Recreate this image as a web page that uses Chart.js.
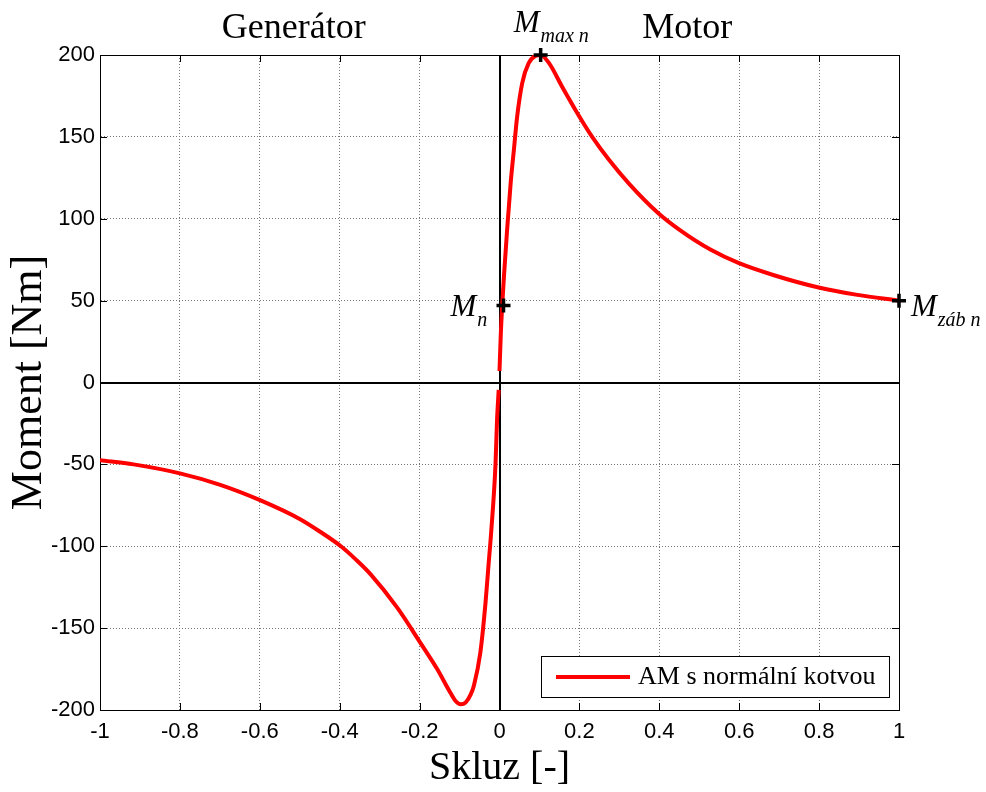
<!DOCTYPE html>
<html>
<head>
<meta charset="utf-8">
<title>Moment - skluz</title>
<script src="https://cdn.jsdelivr.net/npm/chart.js"></script>
<style>
  body { margin: 0; background: #fff; }
  #wrap { width: 986px; height: 792px; }
</style>
</head>
<body>
<div id="wrap"><canvas id="chart" width="986" height="792"></canvas></div>
<script>
// values
const seriesLabel = 'AM s normální kotvou';

// generator branch (s < 0)
const slipGen = [-1.000, -0.916, -0.800, -0.699, -0.598, -0.499, -0.450, -0.397, -0.360, -0.323, -0.256, -0.198,
  -0.156, -0.123, -0.110, -0.097, -0.085, -0.072, -0.064, -0.048, -0.035, -0.027, -0.021, -0.010, -0.006, -0.002];
const torqueGen = [-47.5, -50, -55.5, -62.5, -72, -83.5, -91, -100, -108, -117, -137.5, -159,
  -175, -189.5, -194.5, -196.5, -195.5, -190.5, -185, -165, -134.5, -110, -92, -50, -22, -4.5];

// motor branch (s > 0)
const slipMot = [0.000, 0.003, 0.007, 0.012, 0.019, 0.028, 0.036, 0.044, 0.057, 0.073, 0.090, 0.103,
  0.124, 0.157, 0.196, 0.232, 0.274, 0.324, 0.397, 0.449, 0.529, 0.598, 0.687, 0.799, 0.896, 1.000];
const torqueMot = [7, 28, 48, 68, 93, 122, 142, 162, 183, 195, 199.5, 200,
  195, 180.5, 164, 150, 136, 121.5, 103.5, 93.5, 81, 73, 65.5, 58, 53.5, 50];

// marked points (M_n, M_max n, M_záb n)
const markSlip = [0.01, 0.103, 1];
const markTorque = [47, 200, 50];
const markSub = ['n', 'max n', 'záb n'];

const xTicks = [-1, -0.8, -0.6, -0.4, -0.2, 0, 0.2, 0.4, 0.6, 0.8, 1];
const xTickLabels = ['-1', '-0.8', '-0.6', '-0.4', '-0.2', '0', '0.2', '0.4', '0.6', '0.8', '1'];
const yTicks = [-200, -150, -100, -50, 0, 50, 100, 150, 200];
const yTickLabels = ['-200', '-150', '-100', '-50', '0', '50', '100', '150', '200'];

const regionNames = ['Generátor', 'Motor'];
const regionSlip = [-0.515, 0.47];

const SERIF = '"Liberation Serif", "Times New Roman", serif';
const SANS = '"Liberation Sans", Arial, sans-serif';

// curve points, with a break at s = 0
const curveData = slipGen.map((s, i) => ({ x: s, y: torqueGen[i] }))
  .concat([{ x: 0, y: null }])
  .concat(slipMot.map((s, i) => ({ x: s, y: torqueMot[i] })));
const markData = markSlip.map((s, i) => ({ x: s, y: markTorque[i] }));

// where each M label sits relative to its marker: [dx, dy] of the "M" baseline-left
const labelOffsets = [[-53, 10], [-27, -23], [12, 15]];

const decorPlugin = {
  id: 'decor',
  beforeDatasetsDraw(chart) {
    const { ctx, chartArea: a, scales: { x, y } } = chart;
    ctx.save();
    ctx.strokeStyle = '#000';
    // box round the plot
    ctx.lineWidth = 1;
    ctx.strokeRect(a.left + 0.5, a.top + 0.5, a.right - a.left, a.bottom - a.top);
    // inward tick marks
    ctx.beginPath();
    xTicks.forEach(v => {
      const px = Math.round(x.getPixelForValue(v)) + 0.5;
      ctx.moveTo(px, a.bottom); ctx.lineTo(px, a.bottom - 7);
      ctx.moveTo(px, a.top); ctx.lineTo(px, a.top + 7);
    });
    yTicks.forEach(v => {
      const py = Math.round(y.getPixelForValue(v)) + 0.5;
      ctx.moveTo(a.left, py); ctx.lineTo(a.left + 7, py);
      ctx.moveTo(a.right, py); ctx.lineTo(a.right - 7, py);
    });
    ctx.stroke();
    // zero lines
    ctx.lineWidth = 2;
    ctx.beginPath();
    const x0 = Math.round(x.getPixelForValue(0));
    const y0 = Math.round(y.getPixelForValue(0));
    ctx.moveTo(x0, a.top); ctx.lineTo(x0, a.bottom);
    ctx.moveTo(a.left, y0); ctx.lineTo(a.right, y0);
    ctx.stroke();
    ctx.restore();
  },
  afterDatasetsDraw(chart) {
    const { ctx, scales: { x, y } } = chart;
    ctx.save();
    ctx.fillStyle = '#000';
    ctx.textBaseline = 'alphabetic';

    // Generátor / Motor
    ctx.font = '36px ' + SERIF;
    ctx.textAlign = 'center';
    regionNames.forEach((t, i) => ctx.fillText(t, x.getPixelForValue(regionSlip[i]), 38));

    // M labels with subscripts
    ctx.textAlign = 'left';
    markSlip.forEach((s, i) => {
      const px = x.getPixelForValue(s);
      const py = y.getPixelForValue(markTorque[i]);
      const lx = px + labelOffsets[i][0];
      const ly = py + labelOffsets[i][1];
      ctx.font = 'italic 31px ' + SERIF;
      ctx.fillText('M', lx, ly);
      const w = ctx.measureText('M').width;
      ctx.font = 'italic 20px ' + SERIF;
      ctx.fillText(markSub[i], lx + w + 1, ly + 10);
    });

    // legend box
    const bx = 541, by = 656, bw = 348, bh = 41;
    ctx.fillStyle = '#fff';
    ctx.fillRect(bx, by, bw, bh);
    ctx.strokeStyle = '#000';
    ctx.lineWidth = 1;
    ctx.strokeRect(bx + 0.5, by + 0.5, bw, bh);
    ctx.strokeStyle = '#ff0000';
    ctx.lineWidth = 4;
    ctx.beginPath();
    ctx.moveTo(bx + 15, by + 21); ctx.lineTo(bx + 89, by + 21);
    ctx.stroke();
    ctx.fillStyle = '#000';
    ctx.font = '26px ' + SERIF;
    ctx.textBaseline = 'middle';
    ctx.fillText(seriesLabel, bx + 97, by + 21);
    ctx.restore();
  }
};

new Chart(document.getElementById('chart'), {
  type: 'scatter',
  data: {
    datasets: [
      {
        label: seriesLabel,
        data: curveData,
        showLine: true,
        borderColor: '#ff0000',
        backgroundColor: '#ff0000',
        borderWidth: 4,
        pointRadius: 0,
        cubicInterpolationMode: 'monotone',
        spanGaps: false,
        order: 2
      },
      {
        label: 'marks',
        data: markData,
        pointStyle: 'cross',
        pointRadius: 7,
        pointBorderWidth: 3.5,
        borderColor: '#000',
        backgroundColor: '#000',
        clip: false,
        order: 1
      }
    ]
  },
  options: {
    responsive: false,
    animation: false,
    layout: { padding: { top: 55, right: 87, left: 0, bottom: 0 } },
    plugins: {
      legend: { display: false },
      tooltip: { enabled: false }
    },
    scales: {
      x: {
        type: 'linear',
        min: -1,
        max: 1,
        afterBuildTicks: axis => { axis.ticks = xTicks.map(v => ({ value: v })); },
        afterFit: axis => { axis.height = 82; },
        grid: { color: '#777', lineWidth: 1, drawTicks: false },
        border: { display: true, color: '#000', width: 1, dash: [1, 2] },
        ticks: {
          color: '#000',
          padding: 9,
          maxRotation: 0,
          font: { family: SANS, size: 22 },
          callback: (v, i) => xTickLabels[i]
        },
        title: {
          display: true,
          text: 'Skluz [-]',
          color: '#000',
          font: { family: SERIF, size: 40 },
          padding: { top: 0, bottom: 0 }
        }
      },
      y: {
        type: 'linear',
        min: -200,
        max: 200,
        afterBuildTicks: axis => { axis.ticks = yTicks.map(v => ({ value: v })); },
        afterFit: axis => { axis.width = 100; },
        grid: { color: '#777', lineWidth: 1, drawTicks: false },
        border: { display: true, color: '#000', width: 1, dash: [1, 2] },
        ticks: {
          color: '#000',
          padding: 5,
          font: { family: SANS, size: 22 },
          callback: (v, i) => yTickLabels[i]
        },
        title: {
          display: true,
          text: 'Moment [Nm]',
          color: '#000',
          font: { family: SERIF, size: 44 },
          padding: { top: 3, bottom: 0 }
        }
      }
    }
  },
  plugins: [decorPlugin]
});
</script>
</body>
</html>
